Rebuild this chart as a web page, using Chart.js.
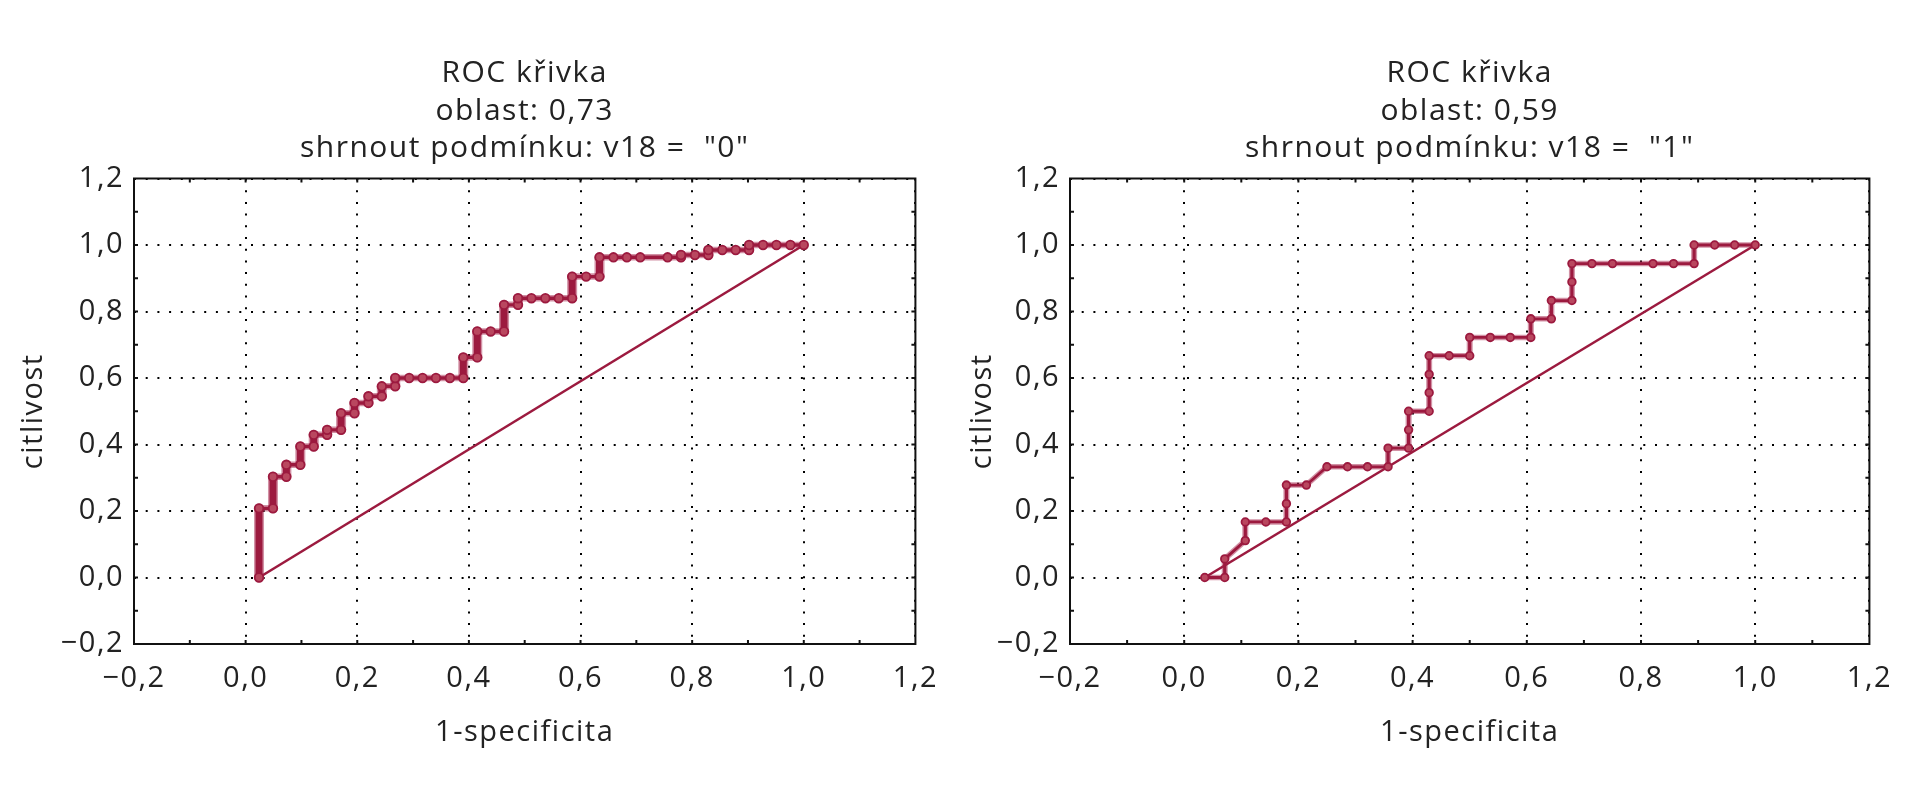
<!DOCTYPE html>
<html>
<head>
<meta charset="utf-8">
<script src="https://cdn.jsdelivr.net/npm/chart.js@4.4.1/dist/chart.umd.min.js"></script>
<style>
html,body{margin:0;padding:0;background:#fff;width:1909px;height:800px;overflow:hidden;}
.wrap{position:absolute;top:0;height:800px;}
#w1{left:0;width:955px;}
#w2{left:955px;width:954px;}
canvas{display:block;}
</style>
</head>
<body>
<div class="wrap" id="w1"><canvas id="c1"></canvas></div>
<div class="wrap" id="w2"><canvas id="c2"></canvas></div>
<script>
// ---- axis / labels ----
const majorTicks = [-0.2, 0.0, 0.2, 0.4, 0.6, 0.8, 1.0, 1.2];
const frameTicks = [-0.1, 0.0, 0.1, 0.2, 0.3, 0.4, 0.5, 0.6, 0.7, 0.8, 0.9, 1.0, 1.1];
const xAxisTitle = '1-specificita';
const yAxisTitle = 'citlivost';
const leftTitle = ['ROC křivka', 'oblast: 0,73', 'shrnout podmínku: v18 =  "0"'];
const rightTitle = ['ROC křivka', 'oblast: 0,59', 'shrnout podmínku: v18 =  "1"'];

// ---- left panel (v18 = "0") ----
const leftRocX = [0.024,0.024, 0.049,0.049, 0.073,0.073, 0.098,0.098, 0.122,0.122, 0.146,0.146,
  0.171,0.171, 0.195,0.195, 0.220,0.220, 0.244,0.244, 0.268,0.268, 0.293,0.317,0.341,0.366,
  0.390,0.390, 0.415,0.415, 0.439, 0.463,0.463, 0.488,0.488, 0.512,0.537,0.561, 0.585,0.585,
  0.610, 0.634,0.634, 0.659,0.683,0.707,0.756, 0.780,0.780, 0.805, 0.829,0.829, 0.854,0.878,
  0.902,0.902, 0.927,0.951,0.976,1.000];
const leftRocY = [0.000,0.208, 0.208,0.303, 0.303,0.339, 0.339,0.394, 0.394,0.429, 0.429,0.444,
  0.444,0.494, 0.494,0.525, 0.525,0.545, 0.545,0.575, 0.575,0.600, 0.600,0.600,0.600,0.600,
  0.600,0.662, 0.662,0.740, 0.740, 0.740,0.820, 0.820,0.840, 0.840,0.840,0.840, 0.840,0.905,
  0.905, 0.905,0.963, 0.963,0.963,0.963,0.963, 0.963,0.970, 0.970, 0.970,0.985, 0.985,0.985,
  0.985,1.000, 1.000,1.000,1.000,1.000];
const leftDiagX = [0.024, 1.000];
const leftDiagY = [0.000, 1.000];

// ---- right panel (v18 = "1") ----
const rightRocX = [0.036,0.071,0.071,0.107,0.107,0.143,0.179,0.179,0.179,0.214,0.250,0.286,0.321,
  0.357,0.357,0.393,0.393,0.393,0.429,0.429,0.429,0.429,0.464,0.500,0.500,0.536,0.571,0.607,0.607,
  0.643,0.643,0.679,0.679,0.679,0.714,0.750,0.821,0.857,0.893,0.893,0.929,0.964,1.000];
const rightRocY = [0.000,0.000,0.056,0.111,0.167,0.167,0.167,0.222,0.278,0.278,0.333,0.333,0.333,
  0.333,0.389,0.389,0.444,0.500,0.500,0.556,0.611,0.667,0.667,0.667,0.722,0.722,0.722,0.722,0.778,
  0.778,0.833,0.833,0.889,0.944,0.944,0.944,0.944,0.944,0.944,1.000,1.000,1.000,1.000];
const rightDiagX = [0.036, 1.000];
const rightDiagY = [0.000, 1.000];

// ---- style ----
const CURVE = '#9c1a3f';
const HALO = 'rgba(165,35,75,0.5)';
const POINT_FILL = '#b9475f';
const TEXT = '#222';
const FONT = "'Open Sans', 'Noto Sans', sans-serif";
const LS = '1.5px';
const TICK_LEN = 4;

function fmt(v) {
  if (Math.abs(v) < 1e-9) v = 0;
  const s = Math.abs(v).toFixed(1).replace('.', ',');
  return v < 0 ? '\u2212' + s : s;
}

const spacingPlugin = {
  id: 'spacing',
  beforeUpdate(c) { c.ctx.letterSpacing = LS; },
  beforeDraw(c) { c.ctx.letterSpacing = LS; }
};

const framePlugin = {
  id: 'frame',
  beforeDatasetsDraw(chart) {
    const {ctx, chartArea: {left, right, top, bottom}, scales: {x, y}} = chart;
    ctx.save();
    ctx.strokeStyle = '#111';
    ctx.lineWidth = 2;
    ctx.strokeRect(left, top, right - left, bottom - top);
    ctx.beginPath();
    for (const v of frameTicks) {
      const px = x.getPixelForValue(v), py = y.getPixelForValue(v);
      ctx.moveTo(px, bottom); ctx.lineTo(px, bottom - TICK_LEN);
      ctx.moveTo(px, top); ctx.lineTo(px, top + TICK_LEN);
      ctx.moveTo(left, py); ctx.lineTo(left + TICK_LEN, py);
      ctx.moveTo(right, py); ctx.lineTo(right - TICK_LEN, py);
    }
    ctx.stroke();
    ctx.restore();
  }
};

function toPts(xs, ys) { return xs.map((x, i) => ({x: x, y: ys[i]})); }
function isVertical(c) { return Math.abs(c.p0.x - c.p1.x) < 0.5; }

function makeChart(id, w, g, rocX, rocY, diagX, diagY, titleLines) {
  const canvas = document.getElementById(id);
  canvas.width = w; canvas.height = 800;
  canvas.style.width = w + 'px'; canvas.style.height = '800px';
  const tickFont = {family: FONT, size: 29};
  const axisCommon = {
    type: 'linear', min: -0.2, max: 1.2,
    afterBuildTicks(s) { s.ticks = majorTicks.map(v => ({value: v})); },
    grid: {color: '#000', lineWidth: 2, drawTicks: false},
    border: {display: false, dash: [2, 9.7]}
  };
  return new Chart(canvas, {
    type: 'scatter',
    data: {datasets: [
      {data: toPts(diagX, diagY), showLine: true, borderColor: CURVE, borderWidth: 2.6,
       pointRadius: 0, order: 3},
      {data: toPts(rocX, rocY), showLine: true, borderColor: HALO, pointRadius: 0,
       borderCapStyle: 'round', borderJoinStyle: 'round', borderWidth: g.haloH,
       segment: {borderWidth: c => isVertical(c) ? g.haloV : g.haloH}, order: 2},
      {data: toPts(rocX, rocY), showLine: true, borderColor: CURVE, borderWidth: g.lineH,
       borderJoinStyle: 'round',
       segment: {borderWidth: c => isVertical(c) ? g.lineV : g.lineH},
       pointRadius: g.pr, pointBorderWidth: 1.8, pointBorderColor: CURVE,
       pointBackgroundColor: POINT_FILL, order: 1}
    ]},
    options: {
      responsive: false, animation: false, devicePixelRatio: 1,
      layout: {padding: {left: 0, right: g.padRight, top: 0, bottom: 0}},
      plugins: {
        legend: {display: false}, tooltip: {enabled: false},
        title: {display: true, text: titleLines, fullSize: false, color: TEXT,
          font: {family: FONT, size: 30, weight: 'normal', lineHeight: 1.25},
          padding: {top: 55, bottom: 11}}
      },
      scales: {
        x: Object.assign({}, axisCommon, {
          position: 'bottom',
          afterFit(s) { s.height = 156; },
          ticks: {font: tickFont, color: TEXT, padding: 17, maxRotation: 0, autoSkip: false,
            callback: v => fmt(v)},
          title: {display: true, text: xAxisTitle, color: TEXT, font: {family: FONT, size: 29},
            padding: {top: 0, bottom: 50}}
        }),
        y: Object.assign({}, axisCommon, {
          position: 'left',
          afterFit(s) { s.width = g.yWidth; },
          ticks: {font: tickFont, color: TEXT, padding: 10, autoSkip: false,
            callback: v => fmt(v)},
          title: {display: true, text: yAxisTitle, color: TEXT, font: {family: FONT, size: 29},
            padding: {top: g.yTitlePad, bottom: 0}}
        })
      }
    },
    plugins: [spacingPlugin, framePlugin]
  });
}

makeChart('c1', 955,
  {padRight: 22, yWidth: 134, yTitlePad: 16, haloH: 6.5, haloV: 10, lineH: 3.4, lineV: 7, pr: 4.3},
  leftRocX, leftRocY, leftDiagX, leftDiagY, leftTitle);
makeChart('c2', 954,
  {padRight: 39, yWidth: 115, yTitlePad: 10, haloH: 5.5, haloV: 6, lineH: 2.8, lineV: 3.2, pr: 3.8},
  rightRocX, rightRocY, rightDiagX, rightDiagY, rightTitle);
</script>
</body>
</html>
